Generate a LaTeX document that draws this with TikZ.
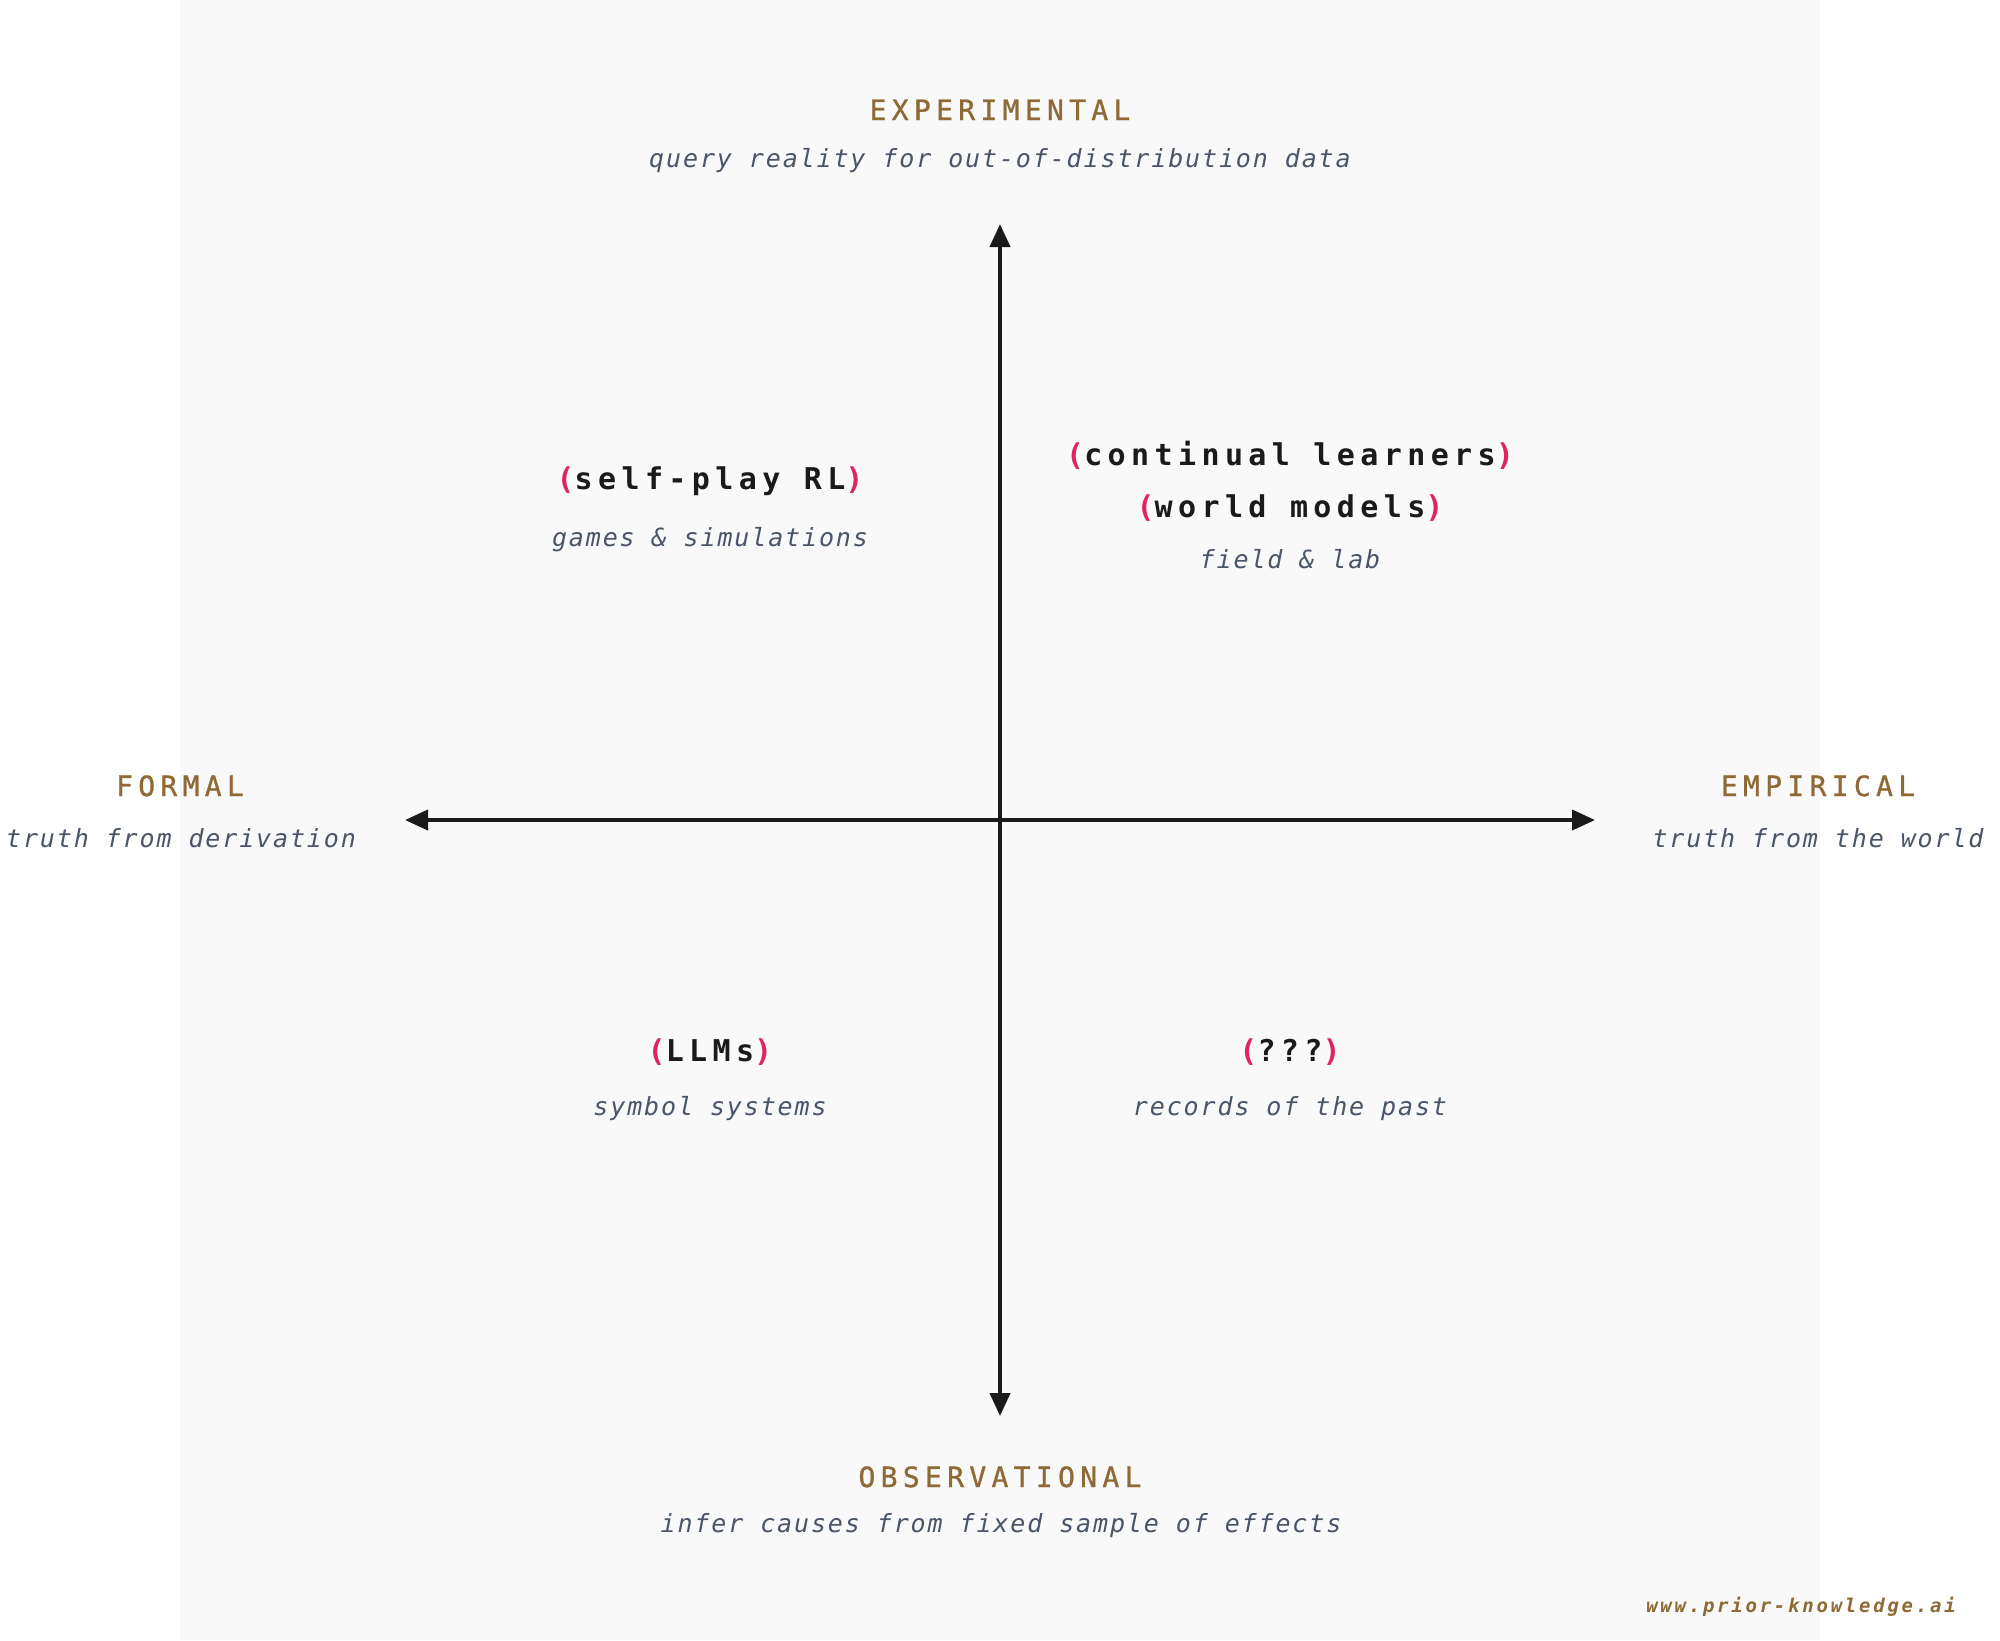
\documentclass[tikz,border=0pt]{standalone}
\usepackage{fontspec}
\usetikzlibrary{arrows.meta}
\setmainfont{DejaVu Sans Mono}
\newfontfamily\headfont[LetterSpace=19,FakeBold=1]{DejaVu Sans Mono}
\newfontfamily\quadfont[LetterSpace=18]{DejaVu Sans Mono}
\newfontfamily\subfont[LetterSpace=7.5]{DejaVu Sans Mono}
\newfontfamily\wwwfont[LetterSpace=14.5]{DejaVu Sans Mono}
\definecolor{bgpanel}{HTML}{F9F9FA}
\definecolor{headbrown}{HTML}{8F6A36}
\definecolor{subgray}{HTML}{4A5568}
\definecolor{inkblack}{HTML}{1A1A1A}
\definecolor{parpink}{HTML}{E0245E}
\tikzset{
  lbl/.style={inner sep=0pt, anchor=base},
  headlbl/.style={lbl, text=headbrown, font=\headfont\fontsize{14pt}{16pt}\selectfont},
  sublbl/.style={lbl, text=subgray, font=\subfont\itshape\fontsize{12.5pt}{14pt}\selectfont},
  quadlbl/.style={lbl, text=inkblack, font=\quadfont\bfseries\fontsize{15pt}{17pt}\selectfont},
  wwwlbl/.style={lbl, text=headbrown, font=\wwwfont\bfseries\itshape\fontsize{9.5pt}{11pt}\selectfont},
  axis/.style={draw=inkblack, line width=2pt, {Triangle[length=11.5pt,width=10pt]}-{Triangle[length=11.5pt,width=10pt]}}
}
\newcommand{\pp}[1]{\textcolor{parpink}{(}#1\textcolor{parpink}{)}}
\begin{document}
\begin{tikzpicture}[x=0.5pt,y=-0.5pt]
  \fill[white] (0,0) rectangle (2000,1640);
  \fill[bgpanel] (180,0) rectangle (1820,1640);
  \useasboundingbox (0,0) rectangle (2000,1640);

  \coordinate (O) at (1000,820);
  \coordinate (axL) at (405,820);
  \coordinate (axR) at (1595,820);
  \coordinate (axT) at (1000,224);
  \coordinate (axB) at (1000,1416);
  \draw[axis] (axL) -- (axR);
  \draw[axis] (axT) -- (axB);

  \node[headlbl] (exp) at (1000,120) {EXPERIMENTAL};
  \node[sublbl] (expsub) at (1000,167) {query reality for out-of-distribution data};

  \node[headlbl] (obs) at (1000,1487) {OBSERVATIONAL};
  \node[sublbl] (obssub) at (1001,1532) {infer causes from fixed sample of effects};

  \node[headlbl] (formal) at (180,796) {FORMAL};
  \node[sublbl] (formalsub) at (181,847) {truth from derivation};

  \node[headlbl] (emp) at (1818,796) {EMPIRICAL};
  \node[sublbl] (empsub) at (1818,847) {truth from the world};

  \node[quadlbl] (selfplay) at (710,489) {\pp{self-play RL}};
  \node[sublbl] (selfplaysub) at (710,546) {games \& simulations};

  \node[quadlbl] (continual) at (1290,465) {\pp{continual learners}};
  \node[quadlbl] (world) at (1290,517) {\pp{world models}};
  \node[sublbl] (worldsub) at (1290,568) {field \& lab};

  \node[quadlbl] (llms) at (710,1061) {\pp{LLMs}};
  \node[sublbl] (llmssub) at (710,1115) {symbol systems};

  \node[quadlbl] (unknown) at (1290,1061) {\pp{???}};
  \node[sublbl] (unknownsub) at (1290,1115) {records of the past};

  \node[wwwlbl] (www) at (1801,1612) {www.prior-knowledge.ai};
\end{tikzpicture}
\end{document}
